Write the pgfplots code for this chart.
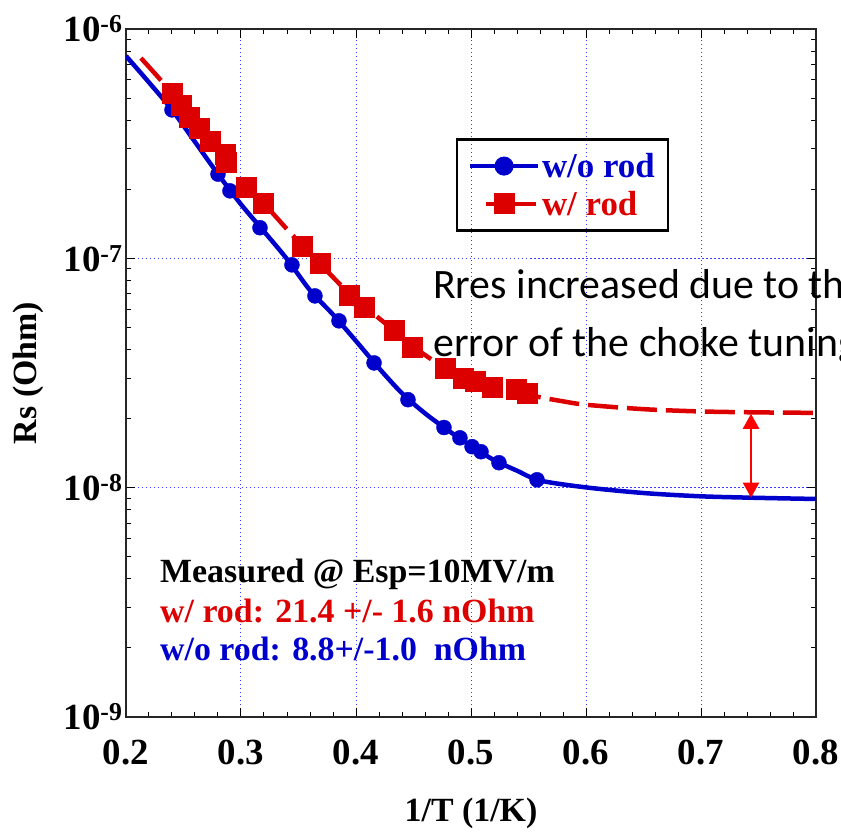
\documentclass[border=0pt]{standalone}
\usepackage{fontspec}
\setmainfont{Liberation Serif}
\newfontfamily\calibri{Carlito}
\usepackage{pgfplots}
\usepackage{pgfplotstable}
\pgfplotsset{compat=1.18}
\usetikzlibrary{arrows.meta}
\definecolor{myblue}{RGB}{0,0,205}
\definecolor{myred}{RGB}{220,0,0}
\definecolor{arrowred}{RGB}{255,0,0}
\definecolor{gridblue}{RGB}{60,60,255}

\pgfplotsset{
  bluelegend/.style={legend image code/.code={\draw[mark repeat=2,mark phase=2,##1] plot coordinates {(0bp,0bp) (34bp,0bp) (68bp,0bp)};}},
  redlegend/.style={legend image code/.code={\draw[mark repeat=2,mark phase=2,##1] plot coordinates {(16bp,0bp) (34bp,0bp) (66bp,0bp)};}},
}

\pgfplotstableread{
x y
0.2400 4.44e-7
0.2800 2.33e-7
0.2904 1.97e-7
0.3165 1.36e-7
0.3443 9.37e-8
0.3643 6.86e-8
0.3852 5.34e-8
0.4157 3.50e-8
0.4452 2.42e-8
0.4765 1.83e-8
0.4904 1.65e-8
0.5009 1.51e-8
0.5087 1.435e-8
0.5243 1.285e-8
0.5574 1.083e-8
}\bluedata

\pgfplotstableread{
x y
0.2400 5.26e-7
0.2478 4.66e-7
0.2548 4.14e-7
0.2635 3.70e-7
0.2730 3.25e-7
0.2861 2.85e-7
0.2870 2.63e-7
0.3043 2.05e-7
0.3191 1.745e-7
0.3530 1.133e-7
0.3687 9.56e-8
0.3939 6.93e-8
0.4070 6.15e-8
0.4330 4.88e-8
0.4487 4.115e-8
0.4774 3.33e-8
0.4930 3.01e-8
0.5035 2.925e-8
0.5183 2.755e-8
0.5391 2.70e-8
0.5487 2.57e-8
}\reddata

\pgfplotstableread{
x y
0.200 7.63e-7
0.220 5.85e-7
0.240 4.44e-7
0.260 3.22e-7
0.280 2.33e-7
0.300 1.72e-7
0.320 1.31e-7
0.340 9.93e-8
0.360 7.26e-8
0.380 5.69e-8
0.400 4.36e-8
0.420 3.32e-8
0.440 2.58e-8
0.460 2.11e-8
0.480 1.78e-8
0.500 1.52e-8
0.520 1.32e-8
0.540 1.186e-8
0.560 1.075e-8
0.600 1.003e-8
0.650 9.48e-9
0.700 9.17e-9
0.750 9.03e-9
0.800 8.93e-9
}\bluefit

\pgfplotstableread{
x y
0.213 7.47e-7
0.240 5.26e-7
0.260 3.87e-7
0.280 2.99e-7
0.300 2.16e-7
0.320 1.73e-7
0.340 1.34e-7
0.360 1.05e-7
0.380 8.28e-8
0.400 6.56e-8
0.420 5.48e-8
0.440 4.53e-8
0.460 3.79e-8
0.480 3.28e-8
0.500 2.95e-8
0.520 2.74e-8
0.540 2.60e-8
0.560 2.48e-8
0.580 2.38e-8
0.600 2.30e-8
0.650 2.20e-8
0.700 2.15e-8
0.750 2.13e-8
0.800 2.12e-8
}\redfit

\begin{document}
\begin{tikzpicture}
\begin{axis}[
  name=ax, at={(0,0)}, anchor=south west,
  scale only axis, width=690bp, height=688bp,
  ymode=log, xmin=0.2, xmax=0.8, ymin=1e-9, ymax=1e-6,
  clip mode=individual,
  xtick={0.2,0.3,0.4,0.5,0.6,0.7,0.8},
  xticklabels={0.2,0.3,0.4,0.5,0.6,0.7,0.8},
  minor x tick num=4,
  ytick={1e-9,1e-8,1e-7,1e-6},
  yticklabels={10\textsuperscript{-9},10\textsuperscript{-8},10\textsuperscript{-7},10\textsuperscript{-6}},
  tick align=inside,
  major tick length=9bp, minor tick length=5bp,
  every tick/.style={black, line width=1bp},
  axis line style={line width=1.2bp, black!85},
  grid=major,
  major grid style={gridblue, line width=1bp, dash pattern=on 1.5bp off 2.5bp},
  ticklabel style={font=\fontsize{37}{40}\selectfont\bfseries},
  xticklabel style={yshift=-19bp},
  xlabel={1/T (1/K)}, ylabel={Rs (Ohm)},
  label style={font=\fontsize{34}{38}\selectfont\bfseries},
  xlabel style={at={(axis description cs:0.5,-0.152)}, anchor=base},
  ylabel style={at={(axis description cs:-0.142,0.5)}, anchor=center},
  legend style={at={(0.478,0.8416)}, anchor=north west, draw=black, fill=none, line width=2.5bp,
    font=\fontsize{35}{38}\selectfont\bfseries, inner xsep=11bp, inner ysep=12bp, row sep=8bp},
  legend cell align=left,
]
\addplot[myblue, line width=4.5bp, smooth, forget plot] table {\bluefit};
\addplot[only marks, mark=*, mark size=7.5bp, myblue, forget plot] table {\bluedata};
\addplot[myred, line width=4.5bp, dash pattern=on 30bp off 9bp, smooth, forget plot] table {\redfit};
\addplot[only marks, mark=square*, mark size=10bp, myred, forget plot] table {\reddata};

\addlegendimage{myblue, line width=4bp, mark=*, mark size=7.5bp, bluelegend}
\addlegendentry{\textcolor{myblue}{w/o rod}}
\addlegendimage{myred, line width=4bp, mark=square*, mark size=8.5bp, redlegend}
\addlegendentry{\textcolor{myred}{w/ rod}}

\draw[arrowred, line width=2.5bp, {Triangle[length=15bp,width=16bp]}-{Triangle[length=15bp,width=16bp]}]
  (axis cs:0.7435,2.10e-8) -- (axis cs:0.7435,9.05e-9);

\node[anchor=base west, inner sep=0pt, font=\calibri\fontsize{42}{46}\selectfont] at (rel axis cs:0.4449,0.6076) {Rres increased due to the};
\node[anchor=base west, inner sep=0pt, font=\calibri\fontsize{42}{46}\selectfont] at (rel axis cs:0.4449,0.5233) {error of the choke tuning};

\node[anchor=base west, inner sep=0pt, font=\fontsize{34}{38}\selectfont\bfseries] at (rel axis cs:0.0493,0.1962) {Measured @ Esp=10MV/m};
\node[anchor=base west, inner sep=0pt, text=myred, font=\fontsize{34}{38}\selectfont\bfseries] at (rel axis cs:0.0493,0.1381) {w/ rod: 21.4 +/- 1.6 nOhm};
\node[anchor=base west, inner sep=0pt, text=myblue, font=\fontsize{34}{38}\selectfont\bfseries] at (rel axis cs:0.0493,0.0828) {w/o rod: 8.8+/-1.0~ nOhm};
\end{axis}
\pgfresetboundingbox
\path[use as bounding box] (-126bp,-118bp) rectangle (715bp,717bp);
\end{tikzpicture}
\end{document}
